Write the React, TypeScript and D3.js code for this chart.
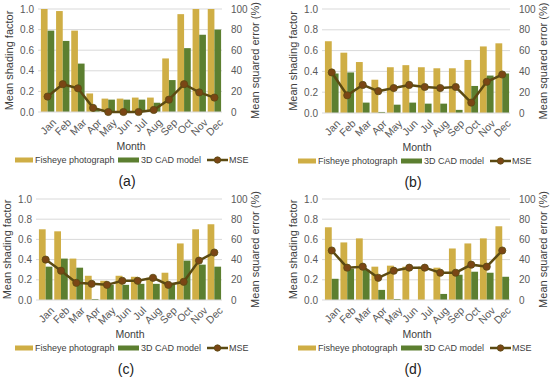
import * as d3 from "d3";

const months = ["Jan", "Feb", "Mar", "Apr", "May", "Jun", "Jul", "Aug", "Sep", "Oct", "Nov", "Dec"];
const leftTicks = [0, 0.2, 0.4, 0.6, 0.8, 1.0];
const rightTicks = [0, 20, 40, 60, 80, 100];

// panel (a)
const fisheyeA = [1.0, 0.98, 0.79, 0.18, 0.13, 0.13, 0.14, 0.14, 0.52, 0.95, 1.0, 1.0];
const cadA = [0.79, 0.69, 0.47, 0.03, 0.12, 0.12, 0.12, 0.09, 0.31, 0.62, 0.75, 0.8];
const mseA = [15, 27, 23, 4, 0, 0, 0, 2, 12, 27, 19, 14];
// panel (b)
const fisheyeB = [0.69, 0.58, 0.49, 0.32, 0.44, 0.46, 0.44, 0.43, 0.43, 0.51, 0.64, 0.67];
const cadB = [0.38, 0.39, 0.1, 0.01, 0.08, 0.1, 0.09, 0.09, 0.03, 0.26, 0.36, 0.38];
const mseB = [39, 17, 27, 21, 24, 27, 25, 24, 25, 10, 30, 37];
// panel (c)
const fisheyeC = [0.7, 0.68, 0.41, 0.24, 0.19, 0.24, 0.23, 0.22, 0.27, 0.56, 0.7, 0.75];
const cadC = [0.33, 0.41, 0.32, 0.01, 0.15, 0.15, 0.16, 0.16, 0.16, 0.39, 0.35, 0.33];
const mseC = [40, 29, 17, 16, 15, 19, 19, 22, 15, 18, 39, 47];
// panel (d)
const fisheyeD = [0.72, 0.57, 0.61, 0.33, 0.34, 0.33, 0.33, 0.32, 0.51, 0.56, 0.61, 0.73];
const cadD = [0.21, 0.31, 0.3, 0.1, 0.01, 0.0, 0.0, 0.06, 0.25, 0.28, 0.27, 0.23];
const mseD = [49, 32, 33, 22, 29, 32, 32, 27, 27, 35, 33, 49];

const FISH = "#cfae45";
const CAD = "#5c7f30";
const LINE = "#5b4a12";
const DOT = "#7a4615";
const TXT = "#404040";
const FONT = "'Liberation Sans', Arial, sans-serif";

interface PanelProps {
  x0: number;
  y0: number;
  left: number;
  right: number;
  top: number;
  bottom: number;
  legendX: number;
  label: string;
  fisheye: number[];
  cad: number[];
  mse: number[];
}

function Panel(p: PanelProps) {
  const x = d3.scaleBand().domain(months).range([p.left, p.right]).paddingInner(0.12).paddingOuter(0.06);
  const sub = d3.scaleBand().domain(["f", "c"]).range([0, x.bandwidth()]);
  const y = d3.scaleLinear().domain([0, 1]).range([p.bottom, p.top]);
  const y2 = d3.scaleLinear().domain([0, 100]).range([p.bottom, p.top]);
  const cx = (m: string) => (x(m) || 0) + x.bandwidth() / 2;
  const line = d3
    .line<number>()
    .x((_, i) => cx(months[i]))
    .y((d) => y2(d));
  const midY = (p.top + p.bottom) / 2;
  const midX = (p.left + p.right) / 2;
  const lg = p.legendX;
  return (
    <g transform={`translate(${p.x0},${p.y0})`} fontFamily={FONT}>
      {leftTicks.map((t) => (
        <g key={t}>
          {t > 0 && <line x1={p.left - 2} x2={p.right} y1={y(t)} y2={y(t)} stroke="#d9d9d9" strokeWidth={1} />}
          <text x={p.left - 6} y={y(t)} dy="0.35em" textAnchor="end" fontSize={10} fill="#595959">
            {t.toFixed(1)}
          </text>
        </g>
      ))}
      {rightTicks.map((t) => (
        <text key={t} x={p.right + 9} y={y2(t)} dy="0.35em" fontSize={10} fill="#595959">
          {t}
        </text>
      ))}
      {months.map((m, i) => (
        <g key={m}>
          <rect x={(x(m) || 0) + (sub("f") || 0)} y={y(p.fisheye[i])} width={sub.bandwidth()} height={p.bottom - y(p.fisheye[i])} fill={FISH} />
          <rect x={(x(m) || 0) + (sub("c") || 0)} y={y(p.cad[i])} width={sub.bandwidth()} height={p.bottom - y(p.cad[i])} fill={CAD} />
          <text
            transform={`translate(${cx(m) + 4},${p.bottom + 6}) rotate(-45)`}
            textAnchor="end"
            dy="0.7em"
            fontSize={10.5}
            fill="#595959"
          >
            {m}
          </text>
        </g>
      ))}
      <line x1={p.left - 2} x2={p.right} y1={p.bottom} y2={p.bottom} stroke="#d9d9d9" strokeWidth={1} />
      <path d={line(p.mse) || ""} fill="none" stroke={LINE} strokeWidth={2.5} />
      {p.mse.map((v, i) => (
        <circle key={i} cx={cx(months[i])} cy={y2(v)} r={3.6} fill={DOT} stroke={LINE} strokeWidth={0.8} />
      ))}
      <text transform={`translate(${p.left - 27},${midY}) rotate(-90)`} textAnchor="middle" fontSize={11} fill={TXT}>
        Mean shading factor
      </text>
      <text transform={`translate(${p.right + 37},${midY}) rotate(-90)`} textAnchor="middle" fontSize={11} fill={TXT}>
        Mean squared error (%)
      </text>
      <text x={midX} y={p.bottom + 38} textAnchor="middle" fontSize={10.5} fill={TXT}>
        Month
      </text>
      <g transform={`translate(0,${p.bottom + 48})`} fontSize={9} fill={TXT}>
        <rect x={lg} y={-2.5} width={18} height={5} fill={FISH} />
        <text x={lg + 20} y={0} dy="0.35em">Fisheye photograph</text>
        <rect x={lg + 103} y={-2.5} width={21} height={5} fill={CAD} />
        <text x={lg + 126} y={0} dy="0.35em">3D CAD model</text>
        <line x1={lg + 192} x2={lg + 213} y1={0} y2={0} stroke={LINE} strokeWidth={2.5} />
        <circle cx={lg + 202.5} cy={0} r={3.2} fill={DOT} stroke={LINE} strokeWidth={0.8} />
        <text x={lg + 214} y={0} dy="0.35em">MSE</text>
      </g>
      <text x={midX - 4} y={p.bottom + 74} textAnchor="middle" fontSize={14} fill="#222">
        {p.label}
      </text>
    </g>
  );
}

export default function App() {
  return (
    <svg width={550} height={385} style={{ position: "absolute", left: 0, top: 0, background: "#fff" }}>
      <Panel x0={0} y0={0} left={40} right={222} top={9} bottom={112} legendX={15} label="(a)" fisheye={fisheyeA} cad={cadA} mse={mseA} />
      <Panel x0={275} y0={0} left={49} right={235} top={9} bottom={113} legendX={23} label="(b)" fisheye={fisheyeB} cad={cadB} mse={mseB} />
      <Panel x0={0} y0={190} left={38} right={222} top={9} bottom={110} legendX={15} label="(c)" fisheye={fisheyeC} cad={cadC} mse={mseC} />
      <Panel x0={275} y0={190} left={49} right={235} top={9} bottom={110} legendX={23} label="(d)" fisheye={fisheyeD} cad={cadD} mse={mseD} />
    </svg>
  );
}
